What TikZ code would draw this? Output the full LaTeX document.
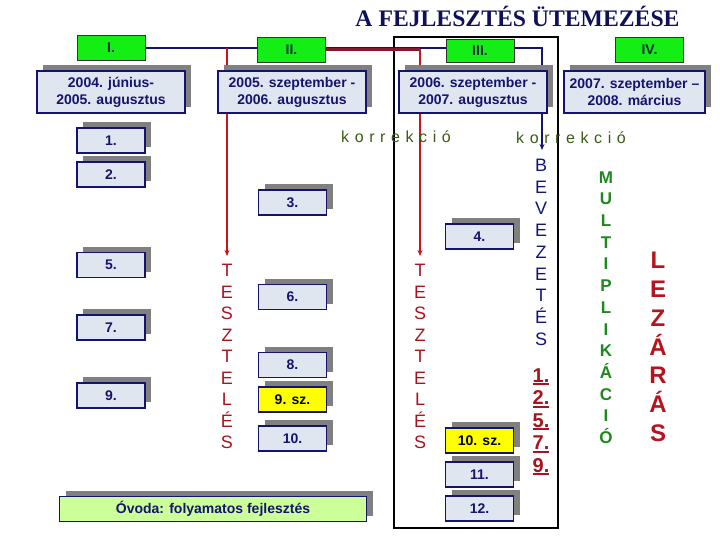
\documentclass[tikz,border=0pt]{standalone}
\usepackage{fontspec}
\setmainfont{Liberation Sans}
\newfontfamily\titlefont{Liberation Serif}
\newfontfamily\korfont[LetterSpace=35]{Liberation Sans}
\usetikzlibrary{shadows,arrows.meta}
\definecolor{boxfill}{RGB}{224,230,240}
\definecolor{navy}{RGB}{20,20,110}
\definecolor{shgray}{RGB}{128,128,128}
\definecolor{phgreen}{RGB}{20,238,20}
\definecolor{phtext}{RGB}{20,40,60}
\definecolor{yel}{RGB}{255,255,0}
\definecolor{ovgreen}{RGB}{204,255,153}
\definecolor{tred}{RGB}{168,20,30}
\definecolor{lred}{RGB}{204,20,30}
\definecolor{maroon}{RGB}{130,25,45}
\definecolor{bvnavy}{RGB}{20,20,120}
\definecolor{mgreen}{RGB}{30,135,30}
\definecolor{zred}{RGB}{180,20,30}
\definecolor{olive}{RGB}{60,90,20}
\definecolor{titleblue}{RGB}{16,16,90}
\newcommand\thickul[1]{\setbox0=\hbox{#1}\rlap{\rule[-3pt]{\wd0}{1.8pt}}\box0}
\tikzset{
  shadowed/.style={drop shadow={shadow xshift=6pt,shadow yshift=6pt,fill=shgray,opacity=1}},
  numbox/.style={shadowed,draw=navy,line width=1.1pt,fill=boxfill,minimum width=68pt,minimum height=25pt,inner sep=0pt,font=\fontsize{14}{16}\selectfont\bfseries,text=navy},
  yelbox/.style={numbox,fill=yel,text=black},
  datebox/.style={numbox,minimum width=148pt,minimum height=42pt,align=center,font=\fontsize{14}{17}\selectfont\bfseries},
  phase/.style={draw=black!80,line width=0.8pt,fill=phgreen,minimum width=68pt,minimum height=25pt,inner sep=0pt,font=\fontsize{14}{16}\selectfont\bfseries,text=phtext},
  vletter/.style={inner sep=0pt,text height=13pt,text depth=0pt,font=\fontsize{18}{18}\selectfont},
  mletter/.style={inner sep=0pt,text height=12.2pt,text depth=0pt,font=\fontsize{17}{17}\selectfont\bfseries,text=mgreen},
  zletter/.style={inner sep=0pt,text height=17.2pt,text depth=0pt,font=\fontsize{24}{24}\selectfont\bfseries,text=zred},
  ulnum/.style={inner sep=0pt,text height=14.3pt,text depth=0pt,font=\fontsize{20}{20}\selectfont\bfseries,text=tred},
  navyline/.style={draw=navy,line width=2pt},
  redline/.style={draw=lred,line width=2pt},
  arr/.style={-{Stealth[length=6pt,width=5pt]}},
  kor/.style={anchor=base west,inner sep=0pt,font=\korfont\fontsize{16}{16}\selectfont,text=olive}
}
\begin{document}
\begin{tikzpicture}[x=1pt,y=-1pt]
\useasboundingbox (0,0) rectangle (720,540);
% frame
\draw[line width=2pt] (394,37) rectangle (558,528);
% title
\node[anchor=base,inner sep=0pt,font=\titlefont\bfseries\fontsize{23.7}{24}\selectfont,text=titleblue] (title) at (517.5,27) {A FEJLESZTÉS ÜTEMEZÉSE};
% anchor coordinates for connectors
\coordinate (r1top) at (227,48);
\coordinate (r1end) at (227,256);
\coordinate (r2turn) at (420,49.5);
\coordinate (r2end) at (420,256);
\coordinate (bvturn) at (542,48);
\coordinate (bvend) at (542,150);
\coordinate (IIIw) at (446,48);
\coordinate (IIIe) at (514,48);
\coordinate (Ie) at (145,48);
% connectors (behind boxes)
\draw[navyline] (Ie) -- (IIIw);
\draw[navyline,arr] (IIIe) -- (bvturn) -- (bvend);
\draw[redline,arr] (r1top) -- (r1end);
\draw[draw=maroon,line width=3pt] (326,49.5) -- (r2turn);
\draw[redline,arr] (r2turn) -- (r2end);
% phase boxes
\node[phase] (I) at (111,47.5) {I.};
\node[phase] (II) at (291.5,49.5) {II.};
\node[phase,minimum height=23pt] (III) at (480,50.5) {III.};
\node[phase] (IV) at (649.5,49.5) {IV.};
% date boxes
\node[datebox] (D1) at (111,92) {2004. június-\\2005. augusztus};
\node[datebox] (D2) at (292,92) {2005. szeptember -\\2006. augusztus};
\node[datebox] (D3) at (473,92) {2006. szeptember -\\2007. augusztus};
\node[datebox,minimum width=141pt] (D4) at (634.5,92) {2007. szeptember –\\2008. március};
% korrekció
\node[kor] (kor1) at (341,143) {korrekció};
\node[kor] (kor2) at (516,144) {korrekció};
% number boxes
\node[numbox] (n1) at (111,140.5) {1.};
\node[numbox] (n2) at (111,174.5) {2.};
\node[numbox] (n3) at (292.5,202.5) {3.};
\node[numbox] (n4) at (479.5,236.5) {4.};
\node[numbox] (n5) at (111,265) {5.};
\node[numbox] (n7) at (111,327.5) {7.};
\node[numbox] (n9) at (111,395.5) {9.};
\node[numbox] (n6) at (292.5,297) {6.};
\node[numbox] (n8) at (292.5,365) {8.};
\node[yelbox] (n9sz) at (292.5,399.5) {9. sz.};
\node[numbox] (n10) at (292.5,438.5) {10.};
\node[yelbox] (n10sz) at (479.5,440.5) {10. sz.};
\node[numbox] (n11) at (479.5,474.5) {11.};
\node[numbox] (n12) at (479.5,508.5) {12.};
\node[numbox,fill=ovgreen,minimum width=307pt] (ovoda) at (213,509) {Óvoda: folyamatos fejlesztés};
% vertical words
\foreach \l [count=\i from 0] in {T,E,S,Z,T,E,L,É,S}
  \node[vletter,text=tred] (ta\i) at (227,270+21.5*\i) {\l};
\foreach \l [count=\i from 0] in {T,E,S,Z,T,E,L,É,S}
  \node[vletter,text=tred] (tb\i) at (420,270+21.5*\i) {\l};
\foreach \l [count=\i from 0] in {B,E,V,E,Z,E,T,É,S}
  \node[vletter,text=bvnavy] (bv\i) at (541,165+21.7*\i) {\l};
\foreach \l [count=\i from 0] in {1.,2.,5.,7.,9.}
  \node[ulnum] (u\i) at (541,375+22.5*\i) {\thickul{\l}};
\foreach \l [count=\i from 0] in {M,U,L,T,I,P,L,I,K,Á,C,I,Ó}
  \node[mletter] (m\i) at (606,177+21.7*\i) {\l};
\foreach \l [count=\i from 0] in {L,E,Z,Á,R,Á,S}
  \node[zletter] (z\i) at (658,260+28.8*\i) {\l};
\end{tikzpicture}
\end{document}
